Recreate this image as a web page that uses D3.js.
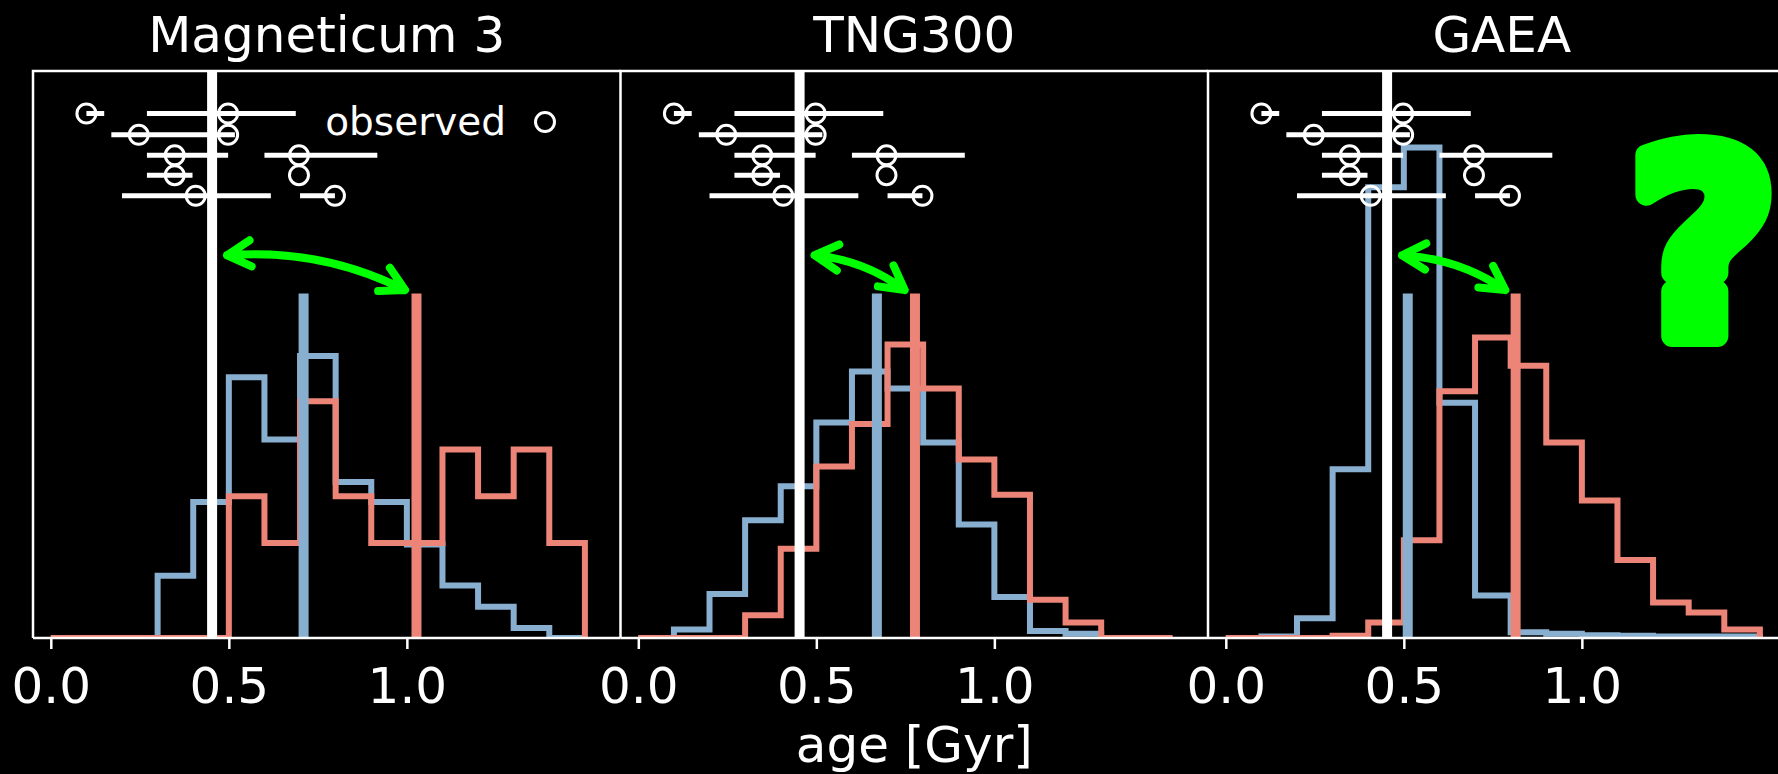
<!DOCTYPE html>
<html>
<head>
<meta charset="utf-8">
<script src="https://cdn.jsdelivr.net/npm/d3@7"></script>
<style>
  html, body { margin: 0; padding: 0; background: #000; }
  svg { display: block; font-family: 'DejaVu Sans', sans-serif; }
</style>
</head>
<body>
<div id="chart"></div>
<script>
// panel titles and shared bin edges (Gyr)
const titles = ['Magneticum 3', 'TNG300', 'GAEA']
const binEdges = [0, 0.1, 0.2, 0.3, 0.4, 0.5, 0.6, 0.7, 0.8, 0.9, 1.0, 1.1, 1.2, 1.3, 1.4, 1.5]
const xTicks = [0, 0.5, 1.0]

// normalised histograms (density), one value per bin
const magneticumBlue = [0, 0, 0, 0.44, 0.96, 1.84, 1.40, 1.99, 1.10, 0.96, 0.66, 0.37, 0.22, 0.07, 0]
const magneticumRed = [0, 0, 0, 0, 0, 1.0, 0.67, 1.67, 1.0, 0.67, 0.67, 1.33, 1.0, 1.33, 0.67]
const tngBlue = [0, 0.06, 0.31, 0.83, 1.07, 1.52, 1.88, 1.76, 1.38, 0.80, 0.29, 0.05, 0.03, 0, 0]
const tngRed = [0, 0, 0, 0.16, 0.63, 1.21, 1.51, 2.07, 1.76, 1.26, 1.01, 0.27, 0.11, 0, 0]
const gaeaBlue = [0, 0.01, 0.14, 1.19, 3.18, 3.46, 1.66, 0.30, 0.04, 0.03, 0.02, 0.015, 0.01, 0.01, 0.01]
const gaeaRed = [0, 0, 0, 0.015, 0.11, 0.69, 1.74, 2.12, 1.92, 1.38, 0.97, 0.55, 0.25, 0.18, 0.06]

// medians of each simulated sample and of the observations
const blueMedian = [0.71, 0.67, 0.511]
const redMedian = [1.027, 0.777, 0.814]
const observedMedian = 0.453
const medianTop = 2.43

// observed ages with error ranges
const obsAge = [0.1, 0.498, 0.247, 0.498, 0.348, 0.697, 0.348, 0.697, 0.407, 0.798]
const obsLo = [0.1, 0.27, 0.17, 0.498, 0.27, 0.6, 0.27, 0.697, 0.2, 0.70]
const obsHi = [0.15, 0.688, 0.517, 0.498, 0.498, 0.917, 0.398, 0.697, 0.618, 0.798]
const obsY = [3.70, 3.70, 3.55, 3.55, 3.405, 3.405, 3.265, 3.265, 3.12, 3.12]

// green arrows from observed median towards the red median
const arrowFromX = 0.495
const arrowFromY = 2.70
const arrowToX = [0.995, 0.748, 0.785]
const arrowToY = 2.455

const width = 1778
const height = 774
const marginTop = 71
const axisY = 638
const panelWidth = 587.5
const panelLeft = [33, 620.5, 1208]
const blue = '#89afd0'
const red = '#ec8577'
const green = '#00ff00'

const blueHist = [magneticumBlue, tngBlue, gaeaBlue]
const redHist = [magneticumRed, tngRed, gaeaRed]

const svg = d3.create('svg:svg')
  .attr('width', width)
  .attr('height', height)
  .attr('xmlns', 'http://www.w3.org/2000/svg')
  .attr('viewBox', [0, 0, width, height])

svg.append('rect')
  .attr('width', width)
  .attr('height', height)
  .attr('fill', '#000')

const defs = svg.append('defs')

const yScale = d3.scaleLinear([0, 4], [axisY, marginTop])

const stepPoints = values => {
  const pts = [[binEdges[0], 0]]
  values.forEach((v, i) => {
    pts.push([binEdges[i], v])
    pts.push([binEdges[i + 1], v])
  })
  pts.push([binEdges[binEdges.length - 1], 0])
  return pts
}

const arrowPath = (p0, p1, rad) => {
  const mx = (p0[0] + p1[0]) / 2
  const my = (p0[1] + p1[1]) / 2
  const dx = p1[0] - p0[0]
  const dy = p1[1] - p0[1]
  const c = [mx + rad * dy, my - rad * dx]
  const path = d3.path()
  path.moveTo(p0[0], p0[1])
  path.quadraticCurveTo(c[0], c[1], p1[0], p1[1])
  const head = (tip) => {
    const ux = c[0] - tip[0]
    const uy = c[1] - tip[1]
    const a = Math.atan2(uy, ux)
    const len = 27
    const t = 29 * Math.PI / 180
    path.moveTo(tip[0] + len * Math.cos(a + t), tip[1] + len * Math.sin(a + t))
    path.lineTo(tip[0], tip[1])
    path.lineTo(tip[0] + len * Math.cos(a - t), tip[1] + len * Math.sin(a - t))
  }
  head(p0)
  head(p1)
  return path.toString()
}

titles.forEach((title, p) => {
  const left = panelLeft[p]
  const xScale = d3.scaleLinear([-0.05, 1.6], [left, left + panelWidth])

  defs.append('clipPath')
    .attr('id', `clip${p}`)
    .append('rect')
    .attr('x', left)
    .attr('y', marginTop)
    .attr('width', panelWidth)
    .attr('height', axisY - marginTop)

  const g = svg.append('g')
  const plot = g.append('g').attr('clip-path', `url(#clip${p})`)

  const line = d3.line()
    .x(d => xScale(d[0]))
    .y(d => yScale(d[1]))

  plot.append('path')
    .attr('fill', 'none')
    .attr('stroke', blue)
    .attr('stroke-width', 6)
    .attr('stroke-linejoin', 'miter')
    .attr('d', line(stepPoints(blueHist[p])))

  plot.append('path')
    .attr('fill', 'none')
    .attr('stroke', red)
    .attr('stroke-width', 6)
    .attr('stroke-linejoin', 'miter')
    .attr('d', line(stepPoints(redHist[p])))

  plot.selectAll('line.median')
    .data([[blueMedian[p], blue], [redMedian[p], red]])
    .join('line')
    .attr('class', 'median')
    .attr('x1', d => xScale(d[0]))
    .attr('x2', d => xScale(d[0]))
    .attr('y1', yScale(0))
    .attr('y2', yScale(medianTop))
    .attr('stroke', d => d[1])
    .attr('stroke-width', 10)

  plot.append('line')
    .attr('x1', xScale(observedMedian))
    .attr('x2', xScale(observedMedian))
    .attr('y1', axisY)
    .attr('y2', marginTop)
    .attr('stroke', 'white')
    .attr('stroke-width', 10)

  const obs = plot.append('g')
  obs.selectAll('line')
    .data(obsAge.map((a, i) => i).filter(i => obsHi[i] > obsLo[i]))
    .join('line')
    .attr('x1', i => xScale(obsLo[i]))
    .attr('x2', i => xScale(obsHi[i]))
    .attr('y1', i => yScale(obsY[i]))
    .attr('y2', i => yScale(obsY[i]))
    .attr('stroke', 'white')
    .attr('stroke-width', 5)
  obs.selectAll('circle')
    .data(obsAge.map((a, i) => i))
    .join('circle')
    .attr('cx', i => xScale(obsAge[i]))
    .attr('cy', i => yScale(obsY[i]))
    .attr('r', 9.5)
    .attr('fill', 'none')
    .attr('stroke', 'white')
    .attr('stroke-width', 3)

  plot.append('path')
    .attr('fill', 'none')
    .attr('stroke', green)
    .attr('stroke-width', 8)
    .attr('stroke-linecap', 'round')
    .attr('stroke-linejoin', 'round')
    .attr('d', arrowPath(
      [xScale(arrowFromX), yScale(arrowFromY)],
      [xScale(arrowToX[p]), yScale(arrowToY)],
      0.14))

  // spines
  g.append('path')
    .attr('fill', 'none')
    .attr('stroke', 'white')
    .attr('stroke-width', 2.5)
    .attr('d', `M${left},${axisY}V${marginTop}H${left + panelWidth}M${left},${axisY}H${left + panelWidth}`)

  const xAxis = d3.axisBottom(xScale)
    .tickValues(xTicks)
    .tickFormat(d3.format('.1f'))
    .tickSize(11)
    .tickPadding(18)

  g.append('g')
    .attr('transform', `translate(0, ${axisY})`)
    .call(xAxis)
    .call(a => a.select('.domain').remove())
    .call(a => a.selectAll('.tick line')
      .attr('stroke', 'white')
      .attr('stroke-width', 2.5))
    .call(a => a.selectAll('.tick text')
      .attr('fill', 'white')
      .attr('font-family', 'DejaVu Sans')
      .attr('font-size', 50))

  g.append('text')
    .attr('x', left + panelWidth / 2)
    .attr('y', 52)
    .attr('text-anchor', 'middle')
    .attr('fill', 'white')
    .attr('font-size', 50)
    .text(title)
})

// legend in the first panel
const legend = svg.append('g')
legend.append('text')
  .attr('x', 506)
  .attr('y', 135)
  .attr('text-anchor', 'end')
  .attr('fill', 'white')
  .attr('font-size', 39)
  .text('observed')
legend.append('circle')
  .attr('cx', 545)
  .attr('cy', 122)
  .attr('r', 9.5)
  .attr('fill', 'none')
  .attr('stroke', 'white')
  .attr('stroke-width', 3)

svg.append('text')
  .attr('x', panelLeft[1] + panelWidth / 2)
  .attr('y', 762)
  .attr('text-anchor', 'middle')
  .attr('fill', 'white')
  .attr('font-size', 50)
  .text('age [Gyr]')

svg.append('text')
  .attr('x', 1703)
  .attr('y', 336)
  .attr('text-anchor', 'middle')
  .attr('fill', green)
  .attr('stroke', green)
  .attr('stroke-width', 22)
  .attr('stroke-linejoin', 'round')
  .attr('font-weight', 'bold')
  .attr('font-size', 256)
  .text('?')

d3.select('#chart').append(() => svg.node())
</script>
</body>
</html>
